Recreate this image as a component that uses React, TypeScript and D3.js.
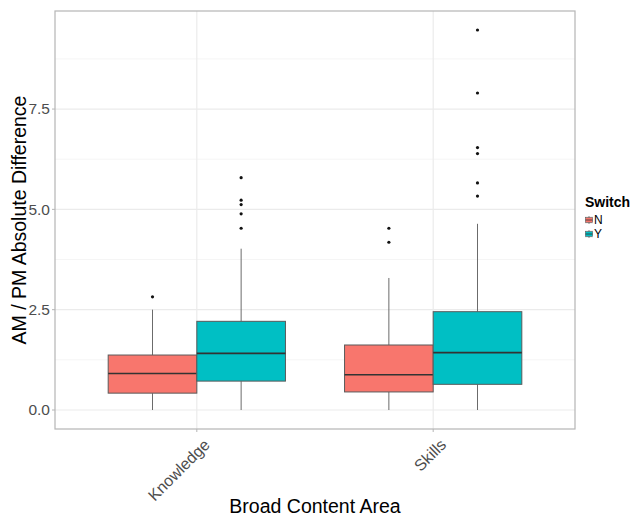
import React from "react";
import * as d3 from "d3";

// Five-number summaries and outliers per content area and switch group
const areas = ["Knowledge", "Skills"];
const groups = ["N", "Y"];
const groupColors = ["#F8766D", "#00BFC4"];

// [lower whisker, Q1, median, Q3, upper whisker]
const knowledgeN = [0, 0.42, 0.91, 1.37, 2.5];
const knowledgeY = [0, 0.72, 1.41, 2.21, 4.02];
const skillsN = [0, 0.45, 0.88, 1.62, 3.29];
const skillsY = [0, 0.64, 1.43, 2.45, 4.64];

const knowledgeNOut = [2.82];
const knowledgeYOut = [4.53, 4.89, 5.12, 5.23, 5.79];
const skillsNOut = [4.18, 4.53];
const skillsYOut = [5.33, 5.66, 6.39, 6.54, 7.9, 9.47];

const yTicks = [0, 2.5, 5, 7.5];
const yMinor = [1.25, 3.75, 6.25, 8.75];

const boxes = [
  { area: "Knowledge", group: "N", stats: knowledgeN, out: knowledgeNOut },
  { area: "Knowledge", group: "Y", stats: knowledgeY, out: knowledgeYOut },
  { area: "Skills", group: "N", stats: skillsN, out: skillsNOut },
  { area: "Skills", group: "Y", stats: skillsY, out: skillsYOut },
];

const W = 638;
const H = 517;
const panel = { left: 55, top: 11, right: 575, bottom: 429 };
const font = "Liberation Sans, Arial, sans-serif";

export default function App() {
  const allVals = boxes.flatMap((b) => [...b.stats, ...b.out]);
  const lo = d3.min(allVals) as number;
  const hi = d3.max(allVals) as number;
  const pad = (hi - lo) * 0.05;
  const y = d3.scaleLinear().domain([lo - pad, hi + pad]).range([panel.bottom, panel.top]);

  // discrete x axis: categories at 1..n with 0.6 expansion each side
  const xc = d3
    .scaleLinear()
    .domain([1 - 0.6, areas.length + 0.6])
    .range([panel.left, panel.right]);
  const xOf = (a: string) => xc(areas.indexOf(a) + 1);
  const dodge = 0.75;
  const half = dodge / groups.length;
  const boxLeft = (a: string, g: string) =>
    xc(areas.indexOf(a) + 1 - dodge / 2 + groups.indexOf(g) * half);
  const boxW = xc(half) - xc(0);

  const gridMajor = "#ebebeb";
  const gridMinor = "#f5f5f5";
  const axisText = "#4d4d4d";

  return (
    <svg width={W} height={H} style={{ position: "absolute", left: 0, top: 0, background: "#fff" }}>
      <rect x={0} y={0} width={W} height={H} fill="#fff" />
      {/* grid */}
      {yMinor.map((t) => (
        <line key={"mn" + t} x1={panel.left} x2={panel.right} y1={y(t)} y2={y(t)} stroke={gridMinor} strokeWidth={1} />
      ))}
      {yTicks.map((t) => (
        <line key={"mj" + t} x1={panel.left} x2={panel.right} y1={y(t)} y2={y(t)} stroke={gridMajor} strokeWidth={1.2} />
      ))}
      {areas.map((a) => (
        <line key={"vx" + a} x1={xOf(a)} x2={xOf(a)} y1={panel.top} y2={panel.bottom} stroke={gridMajor} strokeWidth={1.2} />
      ))}

      {/* boxes */}
      {boxes.map((b, i) => {
        const [w0, q1, med, q3, w1] = b.stats;
        const bx = boxLeft(b.area, b.group);
        const cx = bx + boxW / 2;
        const fill = groupColors[groups.indexOf(b.group)];
        return (
          <g key={i}>
            <line x1={cx} x2={cx} y1={y(w0)} y2={y(q1)} stroke="#6b6b6b" strokeWidth={1} />
            <line x1={cx} x2={cx} y1={y(q3)} y2={y(w1)} stroke="#6b6b6b" strokeWidth={1} />
            <rect x={bx} y={y(q3)} width={boxW} height={y(q1) - y(q3)} fill={fill} stroke="#5a5a5a" strokeWidth={1} />
            <line x1={bx} x2={bx + boxW} y1={y(med)} y2={y(med)} stroke="#333" strokeWidth={1.6} />
            {b.out.map((o, j) => (
              <circle key={j} cx={cx} cy={y(o)} r={1.6} fill="#111" />
            ))}
          </g>
        );
      })}

      {/* panel border */}
      <rect x={panel.left} y={panel.top} width={panel.right - panel.left} height={panel.bottom - panel.top} fill="none" stroke="#b5b5b5" strokeWidth={1.2} />

      {/* y axis */}
      {yTicks.map((t) => (
        <g key={"yt" + t}>
          <line x1={panel.left - 3} x2={panel.left} y1={y(t)} y2={y(t)} stroke="#b5b5b5" />
          <text x={panel.left - 5} y={y(t)} dy="0.35em" textAnchor="end" fontFamily={font} fontSize={15.5} fill={axisText}>
            {d3.format(".1f")(t)}
          </text>
        </g>
      ))}
      <text
        transform={`translate(26,${(panel.top + panel.bottom) / 2}) rotate(-90)`}
        textAnchor="middle"
        fontFamily={font}
        fontSize={19.5}
        fill="#000"
      >
        AM / PM Absolute Difference
      </text>

      {/* x axis */}
      {areas.map((a) => (
        <g key={"xt" + a}>
          <line x1={xOf(a)} x2={xOf(a)} y1={panel.bottom} y2={panel.bottom + 3} stroke="#b5b5b5" />
          <text
            transform={`translate(${xOf(a) + 6},${panel.bottom + 9}) rotate(-45)`}
            textAnchor="end"
            dy="0.7em"
            fontFamily={font}
            fontSize={16}
            fill={axisText}
          >
            {a}
          </text>
        </g>
      ))}
      <text x={(panel.left + panel.right) / 2} y={513} textAnchor="middle" fontFamily={font} fontSize={19.5} fill="#000">
        Broad Content Area
      </text>

      {/* legend */}
      <text x={585} y={207} fontFamily={font} fontSize={14} fontWeight="bold" fill="#000">
        Switch
      </text>
      {groups.map((g, i) => {
        const ky = 216 + i * 14;
        return (
          <g key={"lg" + g}>
            <rect x={585} y={ky} width={8} height={8} fill="#f2f2f2" />
            <line x1={589} x2={589} y1={ky} y2={ky + 8} stroke="#6b6b6b" strokeWidth={0.8} />
            <rect x={585.5} y={ky + 1.5} width={7} height={5} fill={groupColors[i]} stroke="#5a5a5a" strokeWidth={0.6} />
            <line x1={585.5} x2={592.5} y1={ky + 4} y2={ky + 4} stroke="#333" strokeWidth={0.8} />
            <text x={594} y={ky + 4} dy="0.36em" fontFamily={font} fontSize={12} fill="#000">
              {g}
            </text>
          </g>
        );
      })}
    </svg>
  );
}
